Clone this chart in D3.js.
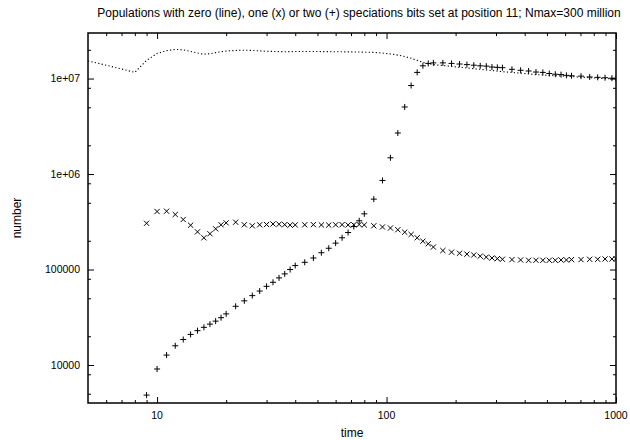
<!DOCTYPE html>
<html>
<head>
<meta charset="utf-8">
<script src="https://cdnjs.cloudflare.com/ajax/libs/d3/7.8.5/d3.min.js"></script>
<style>
  body { margin: 0; background: #fff; }
  svg { display: block; font-family: "Liberation Sans", Arial, sans-serif; }
</style>
</head>
<body>
<div id="chart"></div>
<script>
// sample times for the (x) and (+) series
var times = [9, 10, 11, 12, 13, 14, 15, 16, 17, 18, 19, 20,
  22, 24, 26, 28, 30, 32, 34, 36, 38, 40,
  44, 48, 52, 56, 60, 64, 68, 72, 76, 80,
  88, 96, 104, 112, 120, 128, 136, 144, 152, 160,
  176, 192, 208, 224, 240, 256, 272, 288, 304, 320,
  352, 384, 416, 448, 480, 512, 544, 576, 608, 640,
  704, 768, 832, 896, 960, 1000];

// one speciation bit set (x)
var oneBit = [305000, 405000, 408000, 377000, 334000, 291000, 248000, 215000, 237000, 267000, 294000, 308000,
  313000, 294000, 287000, 294000, 296000, 300000, 298000, 295000, 292000, 293000,
  294000, 295000, 293000, 292000, 294000, 295000, 293000, 294000, 296000, 293000,
  287000, 279000, 272000, 261000, 246000, 233000, 215000, 198000, 186000, 172000,
  158000, 152000, 148000, 145000, 142000, 138000, 135000, 132000, 130000, 128000,
  127000, 126000, 125000, 125000, 125000, 125000, 125000, 126000, 126000, 127000,
  127000, 128000, 128000, 129000, 129000, 130000];

// two speciation bits set (+)
var twoBits = [4840, 9080, 12700, 15900, 18500, 20900, 22900, 24800, 26800, 28800, 31300, 34300,
  41200, 47000, 53300, 59500, 66700, 73500, 81700, 90000, 100000, 110000,
  119000, 132000, 150000, 167000, 189000, 215000, 244000, 282000, 324000, 383000,
  546000, 857000, 1480000, 2690000, 5040000, 8450000, 11600000, 13600000, 14400000, 14600000,
  14600000, 14400000, 14200000, 14000000, 13800000, 13600000, 13500000, 13200000, 13100000, 13000000,
  12500000, 12200000, 12000000, 11700000, 11600000, 11300000, 11100000, 11000000, 10800000, 10700000,
  10600000, 10400000, 10300000, 10200000, 10100000, 10000000];

// zero bits set (dotted line)
var lineTimes = [5, 6, 7, 8, 9, 10, 11, 12, 13, 14, 15, 16, 17, 18, 19, 20,
  22, 24, 26, 28, 30, 36, 40, 48, 60, 72, 80, 88, 96, 104, 112, 120, 128, 136,
  144, 152, 160, 176, 192, 224, 256, 320, 384, 448, 512, 640, 768, 896, 1000];
var zeroBits = [15300000, 13800000, 12600000, 11600000, 15500000, 18300000, 19600000, 20200000, 20000000,
  19200000, 18500000, 18000000, 18200000, 18700000, 19100000, 19400000,
  19700000, 19800000, 19700000, 19500000, 19300000, 19100000, 19200000, 19200000, 19100000,
  19000000, 18900000, 18800000, 18500000, 18100000, 17600000, 17000000, 16300000, 15500000,
  14800000, 14300000, 14000000, 13700000, 13400000, 12900000, 12500000, 11800000, 11400000,
  11000000, 10800000, 10500000, 10200000, 10000000, 9900000];

var xTickVals = [10, 100, 1000];
var yTickVals = [1e4, 1e5, 1e6, 1e7];
var yTickLabels = ['10000', '100000', '1e+06', '1e+07'];

var width = 630, height = 440;
var margin = {top: 33, right: 14, bottom: 37, left: 88};
var plot_w = width - margin.left - margin.right;
var plot_h = height - margin.top - margin.bottom;

var svg = d3.select('#chart').append('svg')
  .attr('width', width)
  .attr('height', height);

var x = d3.scaleLog().domain([5, 1000]).range([0, plot_w]);
var y = d3.scaleLog().domain([4000, 3e7]).range([plot_h, 0]);

var g = svg.append('g')
  .attr('transform', 'translate(' + margin.left + ',' + margin.top + ')');

// minor ticks: x at 2..9 per decade, y at 2,5,8 per decade
var xMinor = [];
[1, 10, 100].forEach(function(d){
  [2,3,4,5,6,7,8,9].forEach(function(m){
    var v = d*m;
    if (v > 5 && v < 1000) xMinor.push(v);
  });
});
var yMinor = [];
[1000, 1e4, 1e5, 1e6, 1e7].forEach(function(d){
  [2,5,8].forEach(function(m){
    var v = d*m;
    if (v > 4000 && v < 3e7) yMinor.push(v);
  });
});

function tickAxis(axisFn, scale, vals, size){
  return axisFn(scale).tickValues(vals).tickSize(size).tickFormat('');
}

function styleAxis(sel){
  sel.select('.domain').remove();
  sel.selectAll('.tick line').attr('stroke', '#000').attr('stroke-width', 1);
}

// bottom / top / left / right ticks (pointing inward)
g.append('g').attr('transform', 'translate(0,' + plot_h + ')')
  .call(tickAxis(d3.axisTop, x, xTickVals, 6)).call(styleAxis);
g.append('g').attr('transform', 'translate(0,' + plot_h + ')')
  .call(tickAxis(d3.axisTop, x, xMinor, 3)).call(styleAxis);
g.append('g')
  .call(tickAxis(d3.axisBottom, x, xTickVals, 6)).call(styleAxis);
g.append('g')
  .call(tickAxis(d3.axisBottom, x, xMinor, 3)).call(styleAxis);
g.append('g')
  .call(tickAxis(d3.axisRight, y, yTickVals, 6)).call(styleAxis);
g.append('g')
  .call(tickAxis(d3.axisRight, y, yMinor, 3)).call(styleAxis);
g.append('g').attr('transform', 'translate(' + plot_w + ',0)')
  .call(tickAxis(d3.axisLeft, y, yTickVals, 6)).call(styleAxis);
g.append('g').attr('transform', 'translate(' + plot_w + ',0)')
  .call(tickAxis(d3.axisLeft, y, yMinor, 3)).call(styleAxis);

// tick labels
g.selectAll('.xlab')
  .data(xTickVals)
  .enter()
  .append('text')
  .attr('x', function(d){ return x(d); })
  .attr('y', plot_h + 16)
  .attr('text-anchor', 'middle')
  .style('font-size', '10.5px')
  .text(function(d){ return d; });

g.selectAll('.ylab')
  .data(yTickVals)
  .enter()
  .append('text')
  .attr('x', -8)
  .attr('y', function(d){ return y(d); })
  .attr('dy', '0.35em')
  .attr('text-anchor', 'end')
  .style('font-size', '10.5px')
  .text(function(d, i){ return yTickLabels[i]; });

var clip = svg.append('defs').append('clipPath').attr('id', 'clip')
  .append('rect').attr('width', plot_w).attr('height', plot_h);

var data_g = g.append('g').attr('clip-path', 'url(#clip)');

// zero bits: dotted line
var line = d3.line()
  .x(function(d){ return x(d[0]); })
  .y(function(d){ return y(d[1]); });

data_g.append('path')
  .datum(d3.zip(lineTimes, zeroBits))
  .attr('d', line)
  .attr('fill', 'none')
  .attr('stroke', '#000')
  .attr('stroke-width', 1.1)
  .attr('stroke-dasharray', '1.2,2.3');

// one bit: x markers
data_g.selectAll('.xm')
  .data(d3.zip(times, oneBit))
  .enter()
  .append('path')
  .attr('transform', function(d){ return 'translate(' + x(d[0]) + ',' + y(d[1]) + ')'; })
  .attr('d', 'M-2.6,-2.6L2.6,2.6M-2.6,2.6L2.6,-2.6')
  .attr('stroke', '#000')
  .attr('stroke-width', 1)
  .attr('fill', 'none');

// two bits: + markers
data_g.selectAll('.pm')
  .data(d3.zip(times, twoBits))
  .enter()
  .append('path')
  .attr('transform', function(d){ return 'translate(' + x(d[0]) + ',' + y(d[1]) + ')'; })
  .attr('d', 'M-3,0H3M0,-3V3')
  .attr('stroke', '#000')
  .attr('stroke-width', 1)
  .attr('fill', 'none');

// frame
g.append('rect')
  .attr('width', plot_w)
  .attr('height', plot_h)
  .attr('fill', 'none')
  .attr('stroke', '#000')
  .attr('stroke-width', 1.5);

// titles
svg.append('text')
  .attr('x', 359)
  .attr('y', 17)
  .attr('text-anchor', 'middle')
  .style('font-size', '12px')
  .text('Populations with zero (line), one (x) or two (+) speciations bits set at position 11; Nmax=300 million');

svg.append('text')
  .attr('x', margin.left + plot_w/2)
  .attr('y', 437)
  .attr('text-anchor', 'middle')
  .style('font-size', '12px')
  .text('time');

svg.append('text')
  .attr('transform', 'translate(21,' + (margin.top + plot_h/2) + ') rotate(-90)')
  .attr('text-anchor', 'middle')
  .style('font-size', '12px')
  .text('number');
</script>
</body>
</html>
